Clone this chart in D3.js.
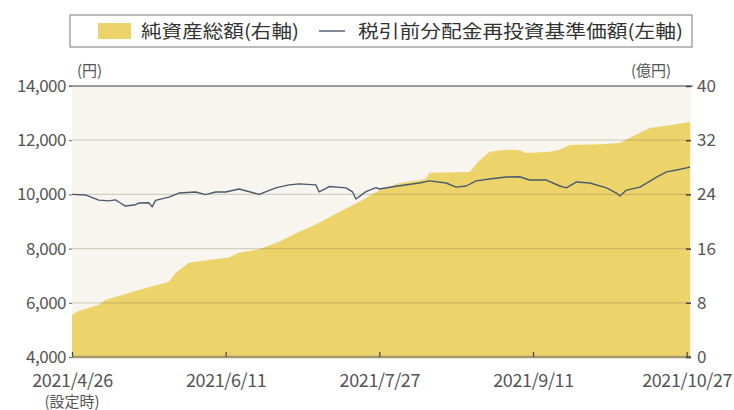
<!DOCTYPE html>
<html>
<head>
<meta charset="utf-8">
<script src="https://cdn.jsdelivr.net/npm/d3@7"></script>
<style>
  body { margin: 0; background: #fff; }
  text { font-family: "Noto Sans CJK JP", "Noto Sans", sans-serif; }
</style>
</head>
<body>
<div id="chart"></div>
<script>
// 税引前分配金再投資基準価額 (円, left axis)
const navDates = [
  '2021-04-26', '2021-04-30', '2021-05-04', '2021-05-07', '2021-05-09', '2021-05-10', '2021-05-12',
  '2021-05-15', '2021-05-16', '2021-05-19', '2021-05-20', '2021-05-21', '2021-05-25', '2021-05-28',
  '2021-06-02', '2021-06-05', '2021-06-08', '2021-06-11', '2021-06-15', '2021-06-21', '2021-06-26',
  '2021-06-30', '2021-07-03', '2021-07-08', '2021-07-09', '2021-07-12', '2021-07-17', '2021-07-19',
  '2021-07-20', '2021-07-23', '2021-07-26', '2021-07-27', '2021-08-01', '2021-08-08', '2021-08-11',
  '2021-08-16', '2021-08-19', '2021-08-22', '2021-08-25', '2021-08-29', '2021-09-03', '2021-09-07',
  '2021-09-10', '2021-09-15', '2021-09-19', '2021-09-21', '2021-09-24', '2021-09-28', '2021-10-03',
  '2021-10-06', '2021-10-07', '2021-10-09', '2021-10-13', '2021-10-18', '2021-10-21', '2021-10-24',
  '2021-10-27', '2021-10-28'
];
const navValues = [
  10000, 9980, 9790, 9760, 9800, 9720, 9570,
  9620, 9680, 9690, 9540, 9780, 9900, 10050,
  10090, 9990, 10090, 10090, 10200, 10000, 10240,
  10350, 10390, 10350, 10090, 10290, 10240, 10090,
  9830, 10100, 10250, 10200, 10300, 10420, 10500,
  10420, 10270, 10310, 10500, 10570, 10640, 10650,
  10530, 10530, 10310, 10240, 10460, 10420, 10240,
  10050, 9940, 10160, 10270, 10640, 10830, 10900,
  10980, 11010
];

// 純資産総額 (億円, right axis)
const assetDates = [
  '2021-04-26', '2021-04-28', '2021-05-04', '2021-05-06', '2021-05-10', '2021-05-16', '2021-05-22',
  '2021-05-25', '2021-05-27', '2021-05-31', '2021-06-06', '2021-06-12', '2021-06-15', '2021-06-21',
  '2021-06-27', '2021-07-03', '2021-07-09', '2021-07-15', '2021-07-21', '2021-07-27', '2021-08-02',
  '2021-08-08', '2021-08-10', '2021-08-11', '2021-08-23', '2021-08-26', '2021-08-29', '2021-09-03',
  '2021-09-07', '2021-09-09', '2021-09-16', '2021-09-19', '2021-09-22', '2021-10-01', '2021-10-07',
  '2021-10-09', '2021-10-13', '2021-10-16', '2021-10-22', '2021-10-28'
];
const assetValues = [
  6.2, 6.8, 7.7, 8.4, 9.0, 9.9, 10.7,
  11.1, 12.4, 13.9, 14.3, 14.7, 15.4, 15.9,
  17.0, 18.5, 19.8, 21.4, 22.9, 24.6, 25.7,
  26.1, 26.3, 27.2, 27.3, 29.0, 30.3, 30.6,
  30.5, 30.1, 30.3, 30.6, 31.3, 31.4, 31.6,
  32.1, 33.1, 33.8, 34.2, 34.7
];

const leftTicks = [4000, 6000, 8000, 10000, 12000, 14000];
const rightTicks = [0, 8, 16, 24, 32, 40];
const xTickDates = ['2021-04-26', '2021-06-11', '2021-07-27', '2021-09-11', '2021-10-27'];
const xTickLabels = ['2021/4/26', '2021/6/11', '2021/7/27', '2021/9/11', '2021/10/27'];
const legendLabels = ['純資産総額(右軸)', '税引前分配金再投資基準価額(左軸)'];

const parse = d3.timeParse('%Y-%m-%d');
const nav = navDates.map((d, i) => ({ date: parse(d), value: navValues[i] }));
const assets = assetDates.map((d, i) => ({ date: parse(d), value: assetValues[i] }));

const W = 734, H = 410;
const plot = { left: 72, right: 691, top: 86, bottom: 357 };
const yellow = '#ecd46b';
const lineColor = '#4b5a6e';
const labelColor = '#555';

const svg = d3.select('#chart').append('svg')
  .attr('width', W)
  .attr('height', H);

const x = d3.scaleTime()
  .domain([parse('2021-04-26'), parse('2021-10-28')])
  .range([plot.left, 690]);

const yLeft = d3.scaleLinear()
  .domain([4000, 14000])
  .range([plot.bottom, plot.top]);

const yRight = d3.scaleLinear()
  .domain([0, 40])
  .range([plot.bottom, plot.top]);

// plot background
svg.append('rect')
  .attr('x', plot.left).attr('y', plot.top)
  .attr('width', plot.right - plot.left).attr('height', plot.bottom - plot.top)
  .attr('fill', '#f7f5ee');

// net assets area
svg.append('path')
  .datum(assets)
  .attr('fill', yellow)
  .attr('d', d3.area()
    .x(d => x(d.date))
    .y0(yRight(0))
    .y1(d => yRight(d.value)));

// grid lines (drawn over the area)
svg.append('g')
  .selectAll('line')
  .data(leftTicks.slice(1, -1))
  .enter()
  .append('line')
  .attr('x1', plot.left).attr('x2', plot.right)
  .attr('y1', d => yLeft(d)).attr('y2', d => yLeft(d))
  .attr('stroke', 'rgba(110,100,70,0.26)')
  .attr('stroke-width', 1.2);

// top border line
svg.append('line')
  .attr('x1', plot.left - 3).attr('x2', plot.right + 2)
  .attr('y1', yLeft(14000)).attr('y2', yLeft(14000))
  .attr('stroke', '#7d7d7d')
  .attr('stroke-width', 1.6);

// NAV line
svg.append('path')
  .datum(nav)
  .attr('fill', 'none')
  .attr('stroke', lineColor)
  .attr('stroke-width', 1.4)
  .attr('stroke-linejoin', 'round')
  .attr('d', d3.line()
    .x(d => x(d.date))
    .y(d => yLeft(d.value)));

// bottom axis line
svg.append('line')
  .attr('x1', plot.left).attr('x2', plot.right)
  .attr('y1', plot.bottom).attr('y2', plot.bottom)
  .attr('stroke', '#a8976a')
  .attr('stroke-width', 2.5);

// left axis
const gLeft = svg.append('g')
  .attr('transform', `translate(${plot.left},0)`)
  .call(d3.axisLeft(yLeft)
    .tickValues(leftTicks)
    .tickFormat(d3.format(','))
    .tickSize(3)
    .tickPadding(3));
gLeft.select('.domain').remove();
gLeft.selectAll('.tick line').attr('stroke', '#666');
gLeft.selectAll('text')
  .attr('fill', labelColor)
  .style('font-size', '17px')
  .attr('letter-spacing', '-0.5');

// right axis
const gRight = svg.append('g')
  .attr('transform', `translate(${plot.right},0)`)
  .call(d3.axisRight(yRight)
    .tickValues(rightTicks)
    .tickSize(-5)
    .tickPadding(6));
gRight.select('.domain').remove();
gRight.selectAll('.tick line').attr('stroke', '#444').attr('stroke-width', 1.5);
gRight.selectAll('text')
  .attr('fill', labelColor)
  .style('font-size', '17px');

// bottom axis
const gBottom = svg.append('g')
  .attr('transform', `translate(0,${plot.bottom})`)
  .call(d3.axisBottom(x)
    .tickValues(xTickDates.map(parse))
    .tickFormat((d, i) => xTickLabels[i])
    .tickSize(-5)
    .tickPadding(17));
gBottom.select('.domain').remove();
gBottom.selectAll('.tick line').attr('stroke', '#444').attr('stroke-width', 1.2);
gBottom.selectAll('text')
  .attr('fill', labelColor)
  .style('font-size', '18px')
  .attr('letter-spacing', '-0.4');

// second line under the first date
svg.append('text')
  .attr('x', x(parse(xTickDates[0])))
  .attr('y', 407)
  .attr('text-anchor', 'middle')
  .attr('fill', labelColor)
  .style('font-size', '15px')
  .text('(設定時)');

// unit labels
svg.append('text')
  .attr('x', 77).attr('y', 76)
  .attr('fill', labelColor)
  .style('font-size', '15px')
  .text('(円)');
svg.append('text')
  .attr('x', 631).attr('y', 76)
  .attr('fill', labelColor)
  .style('font-size', '15px')
  .text('(億円)');

// legend
const legend = svg.append('g');
legend.append('rect')
  .attr('x', 70).attr('y', 15)
  .attr('width', 622).attr('height', 32)
  .attr('fill', '#fff')
  .attr('stroke', '#a5a5a5')
  .attr('stroke-width', 1.5);
legend.append('rect')
  .attr('x', 98).attr('y', 23)
  .attr('width', 33).attr('height', 16)
  .attr('fill', yellow);
legend.append('text')
  .attr('x', 141).attr('y', 38)
  .attr('fill', '#333')
  .style('font-size', '18px')
  .attr('textLength', 158)
  .attr('lengthAdjust', 'spacingAndGlyphs')
  .text(legendLabels[0]);
legend.append('line')
  .attr('x1', 319).attr('x2', 345)
  .attr('y1', 31).attr('y2', 31)
  .attr('stroke', lineColor)
  .attr('stroke-width', 1.4);
legend.append('text')
  .attr('x', 358).attr('y', 38)
  .attr('fill', '#333')
  .style('font-size', '18px')
  .attr('textLength', 325)
  .attr('lengthAdjust', 'spacingAndGlyphs')
  .text(legendLabels[1]);
</script>
</body>
</html>
